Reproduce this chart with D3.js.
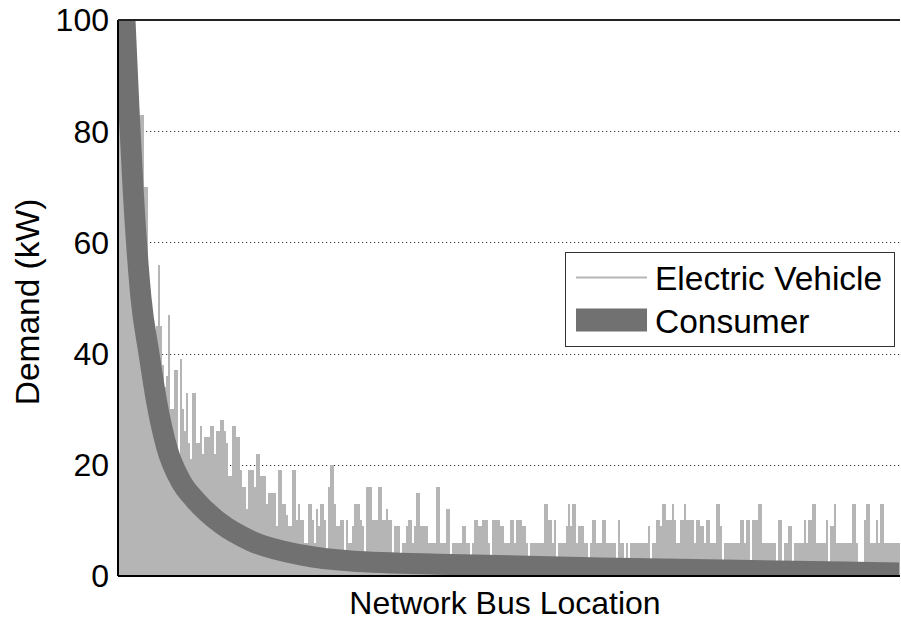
<!DOCTYPE html>
<html>
<head>
<meta charset="utf-8">
<script src="https://cdn.jsdelivr.net/npm/d3@7/dist/d3.min.js"></script>
<style>
  html, body { margin: 0; padding: 0; background: #ffffff; }
  svg { display: block; font-family: "Liberation Sans", Arial, Helvetica, sans-serif; }
</style>
</head>
<body>
<script>
// Electric-vehicle demand per network bus (kW), buses sorted by consumer demand
const evDemand = [
  95, 92, 88, 84, 80, 77, 73, 70, 67, 64,
  62, 83, 83, 70, 70, 48, 46, 44, 44, 45,
  56, 45, 38, 34, 36, 47, 30, 30, 37, 37,
  22, 39, 30, 26, 33, 24, 21, 33, 33, 24,
  24, 27, 22, 25, 25, 25, 27, 27, 22, 26,
  26, 28, 28, 26, 24, 18, 18, 27, 27, 25,
  25, 19, 16, 16, 12, 19, 19, 19, 16, 22,
  22, 18, 18, 18, 13, 15, 15, 15, 15, 9,
  19, 19, 13, 13, 11, 9, 9, 19, 19, 10,
  13, 10, 10, 6, 6, 13, 13, 10, 6, 12,
  9, 13, 13, 10, 2, 16, 20, 20, 13, 9,
  9, 10, 10, 2, 10, 6, 6, 9, 13, 13,
  13, 10, 9, 2, 16, 16, 16, 10, 10, 10,
  16, 16, 10, 10, 12, 10, 10, 2, 9, 9,
  9, 2, 6, 6, 9, 10, 10, 6, 9, 15,
  15, 9, 9, 9, 9, 6, 6, 6, 6, 16,
  16, 6, 6, 6, 12, 12, 2, 6, 6, 6,
  6, 6, 9, 9, 6, 6, 2, 6, 10, 10,
  9, 9, 10, 10, 10, 6, 2, 10, 10, 10,
  10, 9, 9, 6, 6, 6, 10, 10, 6, 10,
  10, 10, 9, 9, 6, 2, 6, 6, 6, 6,
  6, 6, 6, 13, 13, 10, 10, 6, 10, 2,
  6, 6, 6, 6, 9, 13, 9, 13, 13, 6,
  9, 9, 9, 6, 6, 2, 6, 10, 10, 6,
  6, 6, 10, 10, 6, 6, 6, 6, 6, 2,
  10, 6, 6, 2, 6, 2, 6, 6, 6, 6,
  6, 6, 6, 6, 6, 9, 2, 6, 6, 10,
  10, 9, 13, 13, 10, 10, 10, 13, 10, 6,
  6, 10, 10, 13, 10, 10, 10, 10, 6, 10,
  10, 9, 9, 6, 10, 10, 6, 6, 6, 13,
  13, 9, 2, 6, 6, 6, 6, 6, 6, 6,
  6, 10, 10, 6, 10, 10, 2, 10, 10, 10,
  13, 13, 6, 6, 6, 6, 6, 6, 6, 2,
  10, 10, 2, 6, 6, 9, 9, 2, 6, 6,
  6, 6, 6, 10, 6, 10, 10, 13, 13, 6,
  6, 6, 6, 6, 10, 2, 9, 9, 13, 6,
  6, 6, 6, 6, 6, 6, 6, 13, 13, 6,
  2, 2, 2, 10, 13, 13, 6, 6, 6, 10,
  6, 13, 13, 6, 6, 6, 6, 6, 6, 6,
  6
];

// Consumer demand (kW) sampled along the sorted bus order
const consumerBus = [0, 3, 5, 7, 11, 15, 19, 24, 31, 38, 51, 66, 91, 116, 166, 241, 316, 390];
const consumerKw  = [120, 100, 84, 70, 50, 40, 31, 23, 17, 13.7, 9.4, 6.3, 3.8, 2.7, 2.07, 1.44, 1.0, 0.54];

const yTicks = [0, 20, 40, 60, 80, 100];
const gridTicks = [20, 40, 60, 80];
const seriesNames = ["Electric Vehicle", "Consumer"];

const W = 901, H = 626;
const margin = { left: 118, top: 20, right: 1, bottom: 50 };
const plotRight = W - margin.right;
const plotBottom = H - margin.bottom;

const evColor = "#b5b5b5";
const consColor = "#717171";
const tickFont = 32;
const titleFont = 32;
const legendFont = 33.5;

const svg = d3.select("body").append("svg")
  .attr("width", W).attr("height", H);

const x = d3.scaleLinear().domain([0, evDemand.length]).range([margin.left, plotRight]);
const y = d3.scaleLinear().domain([0, 100]).range([plotBottom, margin.top]);

svg.append("defs").append("clipPath").attr("id", "plotClip")
  .append("rect")
  .attr("x", margin.left).attr("y", margin.top)
  .attr("width", plotRight - margin.left).attr("height", plotBottom - margin.top);

// dotted horizontal grid
svg.append("g").selectAll("line").data(gridTicks).join("line")
  .attr("x1", margin.left).attr("x2", plotRight)
  .attr("y1", d => Math.round(y(d)) + 0.5).attr("y2", d => Math.round(y(d)) + 0.5)
  .attr("stroke", "#333").attr("stroke-width", 1)
  .attr("stroke-dasharray", "1.2,2.8");

const plot = svg.append("g").attr("clip-path", "url(#plotClip)");

// electric vehicle demand bars
plot.append("g").attr("shape-rendering", "crispEdges")
  .selectAll("rect").data(evDemand).join("rect")
  .attr("x", (d, i) => x(i))
  .attr("width", (d, i) => x(i + 1) - x(i))
  .attr("y", d => y(d))
  .attr("height", d => y(0) - y(d))
  .attr("fill", evColor);

// consumer demand as a thick band
const consumerPts = consumerBus.map((b, i) => [x(b + 0.5), y(consumerKw[i])]);
plot.append("path")
  .attr("d", d3.line().curve(d3.curveMonotoneX)(consumerPts))
  .attr("fill", "none")
  .attr("stroke", consColor)
  .attr("stroke-width", 21)
  .attr("stroke-linejoin", "round");

// axes frame
const frame = svg.append("g").attr("stroke", "#000").attr("stroke-width", 1.2).attr("shape-rendering", "crispEdges");
frame.append("line").attr("x1", margin.left).attr("x2", margin.left)
  .attr("y1", margin.top).attr("y2", plotBottom);
frame.append("line").attr("x1", margin.left).attr("x2", plotRight)
  .attr("y1", plotBottom).attr("y2", plotBottom);
frame.append("line").attr("x1", margin.left).attr("x2", plotRight)
  .attr("y1", margin.top).attr("y2", margin.top).attr("stroke", "#222");

// y tick labels
svg.append("g").selectAll("text").data(yTicks).join("text")
  .attr("x", 109)
  .attr("y", d => y(d) + tickFont * 0.358)
  .attr("text-anchor", "end")
  .attr("font-size", tickFont)
  .attr("fill", "#000")
  .text(d => d);

// axis titles
svg.append("text")
  .attr("transform", `translate(39, ${(margin.top + plotBottom) / 2 + 4}) rotate(-90)`)
  .attr("text-anchor", "middle")
  .attr("font-size", legendFont)
  .text("Demand (kW)");

svg.append("text")
  .attr("x", (margin.left + plotRight) / 2 - 4)
  .attr("y", 614)
  .attr("text-anchor", "middle")
  .attr("font-size", titleFont)
  .text("Network Bus Location");

// legend
const lg = svg.append("g");
lg.append("rect")
  .attr("x", 565.5).attr("y", 252.5).attr("width", 329).attr("height", 94)
  .attr("fill", "#fff").attr("stroke", "#333").attr("stroke-width", 1);
lg.append("line")
  .attr("x1", 576).attr("x2", 647).attr("y1", 277.5).attr("y2", 277.5)
  .attr("stroke", evColor).attr("stroke-width", 2);
lg.append("line")
  .attr("x1", 576).attr("x2", 647).attr("y1", 320).attr("y2", 320)
  .attr("stroke", consColor).attr("stroke-width", 23);
lg.selectAll("text.lab").data(seriesNames).join("text")
  .attr("class", "lab")
  .attr("x", 655)
  .attr("y", (d, i) => 289.5 + i * 43)
  .attr("font-size", legendFont)
  .text(d => d);
</script>
</body>
</html>
